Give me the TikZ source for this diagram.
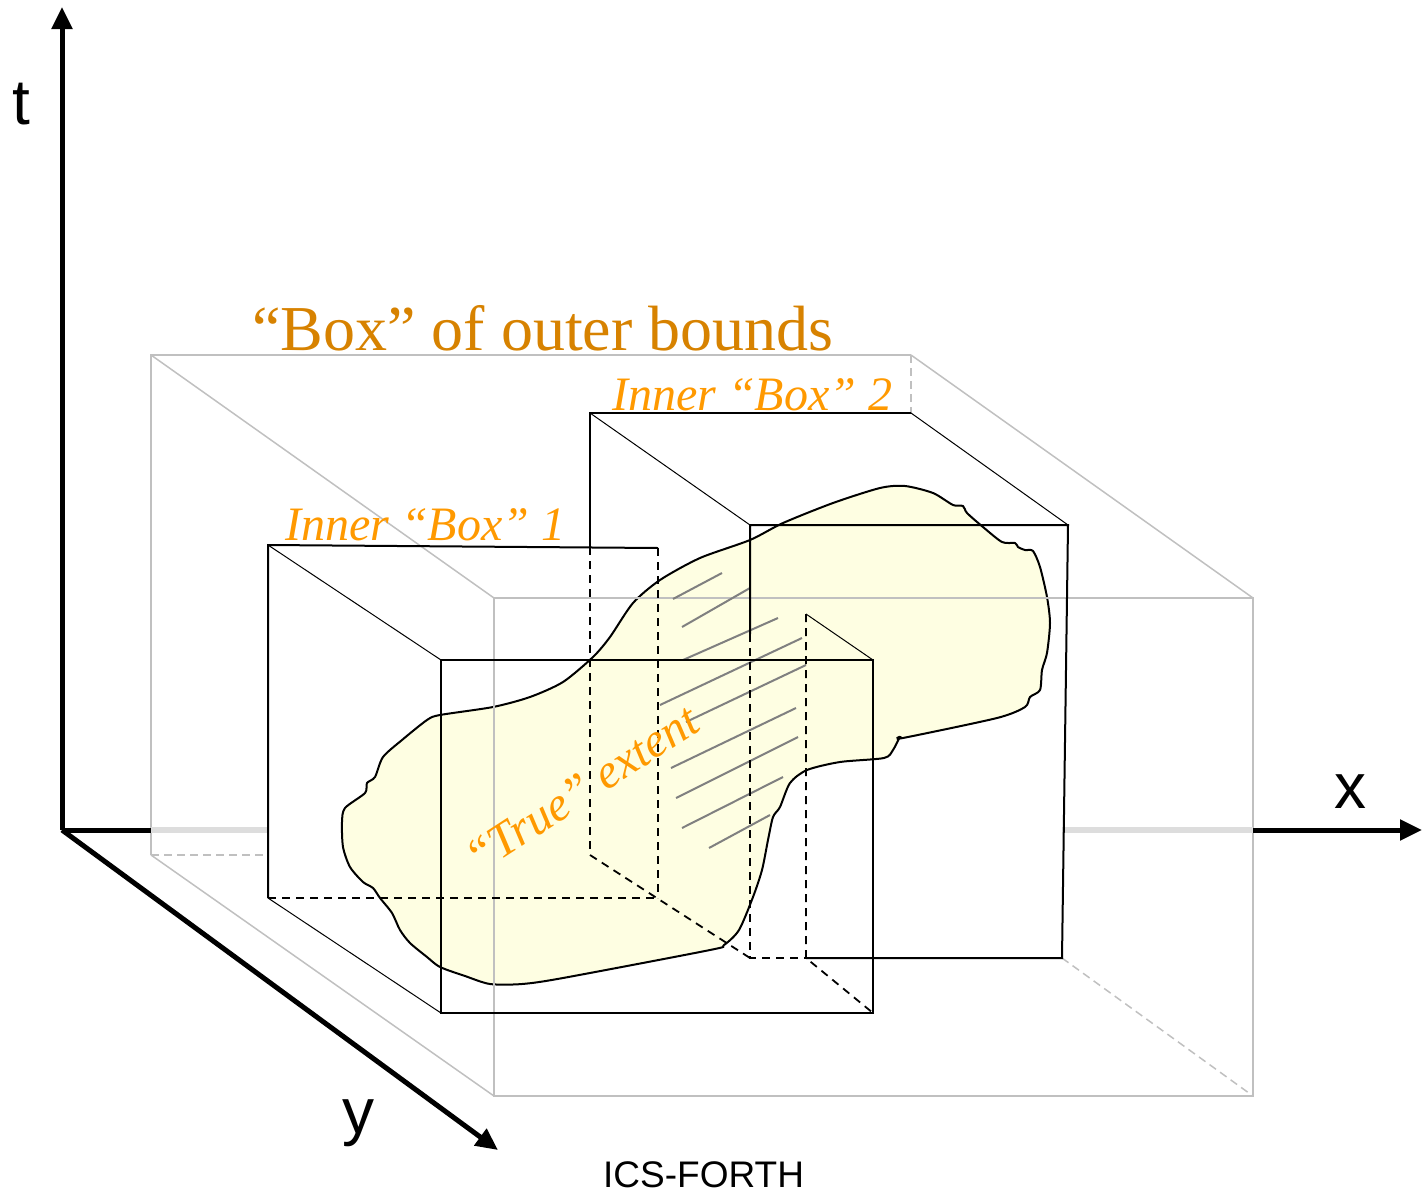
\documentclass[tikz,border=0pt]{standalone}
\usepackage{fontspec}
\setmainfont{Liberation Serif}
\newfontfamily\arialfont{Liberation Sans}
\usetikzlibrary{arrows.meta}
\definecolor{blobfill}{RGB}{254,254,226}
\definecolor{outergrey}{RGB}{192,192,192}
\definecolor{axisgrey}{RGB}{221,221,221}
\definecolor{hatchgrey}{RGB}{128,128,128}
\definecolor{titleorange}{RGB}{215,130,0}
\definecolor{labelorange}{RGB}{255,153,0}
\begin{document}
\begin{tikzpicture}[x=1pt,y=-1pt,
  outer/.style={draw=outergrey, line width=1.5pt},
  outerdash/.style={draw=outergrey, line width=1.5pt, dash pattern=on 8pt off 5pt},
  boxedge/.style={draw=black, line width=2pt},
  boxthin/.style={draw=black, line width=1pt},
  boxdash/.style={draw=black, line width=1.8pt, dash pattern=on 8pt off 6pt},
  axisline/.style={draw=black, line width=5pt},
  axisfaint/.style={draw=axisgrey, line width=6pt},
  axistip/.style={-{Triangle[length=22pt,width=20pt]}},
  hatch/.style={draw=hatchgrey, line width=2pt},
  titletext/.style={text=titleorange, font=\fontsize{64}{70}\selectfont, inner sep=0pt},
  innertext/.style={text=labelorange, font=\fontsize{48}{54}\selectfont\itshape, inner sep=0pt},
  axislabel/.style={font=\arialfont\fontsize{64}{70}\selectfont, inner sep=0pt},
  creditlabel/.style={font=\arialfont\fontsize{37}{42}\selectfont, inner sep=0pt}
]
\useasboundingbox (0,0) rectangle (1424,1191);

% axes coordinates
\coordinate (O) at (62,830);
\coordinate (T) at (62,7);
\coordinate (X) at (1422,830);
\coordinate (Y) at (498,1150);
\coordinate (xa1) at (151,830);
\coordinate (xa2) at (267,830);
\coordinate (xa3) at (1062,830);
\coordinate (xa4) at (1253,830);

% outer box
\coordinate (ob1) at (151,355);
\coordinate (ob2) at (911,355);
\coordinate (ob3) at (151,855);
\coordinate (of1) at (494,598);
\coordinate (of2) at (1253,598);
\coordinate (of3) at (1253,1096);
\coordinate (of4) at (494,1096);
\coordinate (obd1) at (911,413);
\coordinate (obd2) at (267,855);
\coordinate (obd3) at (1062,958);

% inner box 1
\coordinate (a1) at (268,545);
\coordinate (a2) at (658,548);
\coordinate (a3) at (658,898);
\coordinate (a4) at (268,898);
\coordinate (f1) at (441,660);
\coordinate (f2) at (873,660);
\coordinate (f3) at (873,1013);
\coordinate (f4) at (441,1013);
\coordinate (r1) at (806,614);
\coordinate (r2) at (806,958);

% inner box 2
\coordinate (b1) at (590,413);
\coordinate (b2) at (911,413);
\coordinate (b1m) at (590,547);
\coordinate (b4) at (590,855);
\coordinate (g1) at (750,525);
\coordinate (g2) at (1068,525);
\coordinate (g3) at (1062,958);
\coordinate (g4) at (750,958);
\coordinate (g1m) at (750,634);

% the "true" extent blob
\path[draw=black, line width=2pt, fill=blobfill] plot[smooth cycle, tension=0.45] coordinates {
 (342,822) (345,808) (365,793) (367,783) (375,777) (383,757) (402,740) (427,720) (440,715)
 (493,707) (530,697) (563,682) (593,657) (610,637) (633,603) (660,580) (700,558)
 (750,540) (783,523) (833,503) (880,488) (905,486) (933,493) (953,505) (963,506)
 (967,513) (983,527) (1002,542) (1015,543) (1018,547) (1025,550) (1033,551) (1040,567)
 (1047,597) (1050,623) (1047,653) (1042,670) (1040,690) (1030,697) (1025,707) (997,718)
 (903,738) (900,737) (893,750) (884,758) (840,762) (807,770) (790,783) (780,807)
 (773,817) (768,840) (762,870) (753,897) (739,930) (724,945) (710,950) (563,978)
 (522,984) (490,984) (465,976) (440,967) (427,957) (410,943) (400,930) (392,913)
 (380,898) (373,888) (363,882) (350,867) (343,847)};

% outer box (grey)
\draw[outer] (ob3) -- (ob1) -- (ob2);
\draw[outer] (ob1) -- (of1);
\draw[outer] (ob2) -- (of2);
\draw[outer] (ob3) -- (of4);
\draw[outer] (of1) -- (of2) -- (of3) -- (of4) -- cycle;
\draw[outerdash] (ob2) -- (obd1);
\draw[outerdash] (ob3) -- (obd2);
\draw[outerdash] (obd3) -- (of3);

% axes
\draw[axisline, axistip] (O) -- (T);
\draw[axisline, axistip] (O) -- (Y);
\draw[axisline] (O) -- (xa1);
\draw[axisfaint] (xa1) -- (xa2);
\draw[axisfaint] (xa3) -- (xa4);
\draw[axisline, axistip] (xa4) -- (X);

% hatching
\draw[hatch] (673,599) -- (722,573);
\draw[hatch] (682,627) -- (750,588);
\draw[hatch] (683,660) -- (778,618);
\draw[hatch] (660,705) -- (802,638);
\draw[hatch] (686,722) -- (806,665);
\draw[hatch] (671,768) -- (796,708);
\draw[hatch] (676,798) -- (798,737);
\draw[hatch] (682,828) -- (783,777);
\draw[hatch] (709,848) -- (770,815);

% inner box 2
\draw[boxedge] (b1m) -- (b1) -- (b2);
\draw[boxdash] (b1m) -- (b4);
\draw[boxthin] (b1) -- (g1);
\draw[boxthin] (b2) -- (g2);
\draw[boxedge] (g1m) -- (g1) -- (g2) -- (g3) -- (r2);
\draw[boxdash] (g1m) -- (g4) -- (r2);
\draw[boxdash] (b4) -- (g4);

% inner box 1
\draw[boxedge] (a4) -- (a1) -- (a2);
\draw[boxdash] (a2) -- (a3);
\draw[boxdash] (a4) -- (a3);
\draw[boxthin] (a1) -- (f1);
\draw[boxthin] (a4) -- (f4);
\draw[boxedge] (f1) -- (f2) -- (f3) -- (f4) -- cycle;
\draw[boxthin] (r1) -- (f2);
\draw[boxdash] (r1) -- (r2) -- (f3);

% labels
\node[titletext, anchor=base west] (title) at (252,350) {“Box” of outer bounds};
\node[innertext, anchor=base west] (lab2) at (612,410) {Inner “Box” 2};
\node[innertext, anchor=base west] (lab1) at (285,540) {Inner “Box” 1};
\node[innertext, anchor=base west, rotate=33] (lab3) at (478,875) {“True” extent};
\node[axislabel, anchor=base] (tlab) at (21,124) {t};
\node[axislabel, anchor=base] (xlab) at (1350,808) {x};
\node[axislabel, anchor=base] (ylab) at (358,1133) {y};
\node[creditlabel, anchor=base west] (credit) at (603,1187) {ICS-FORTH};
\end{tikzpicture}
\end{document}
